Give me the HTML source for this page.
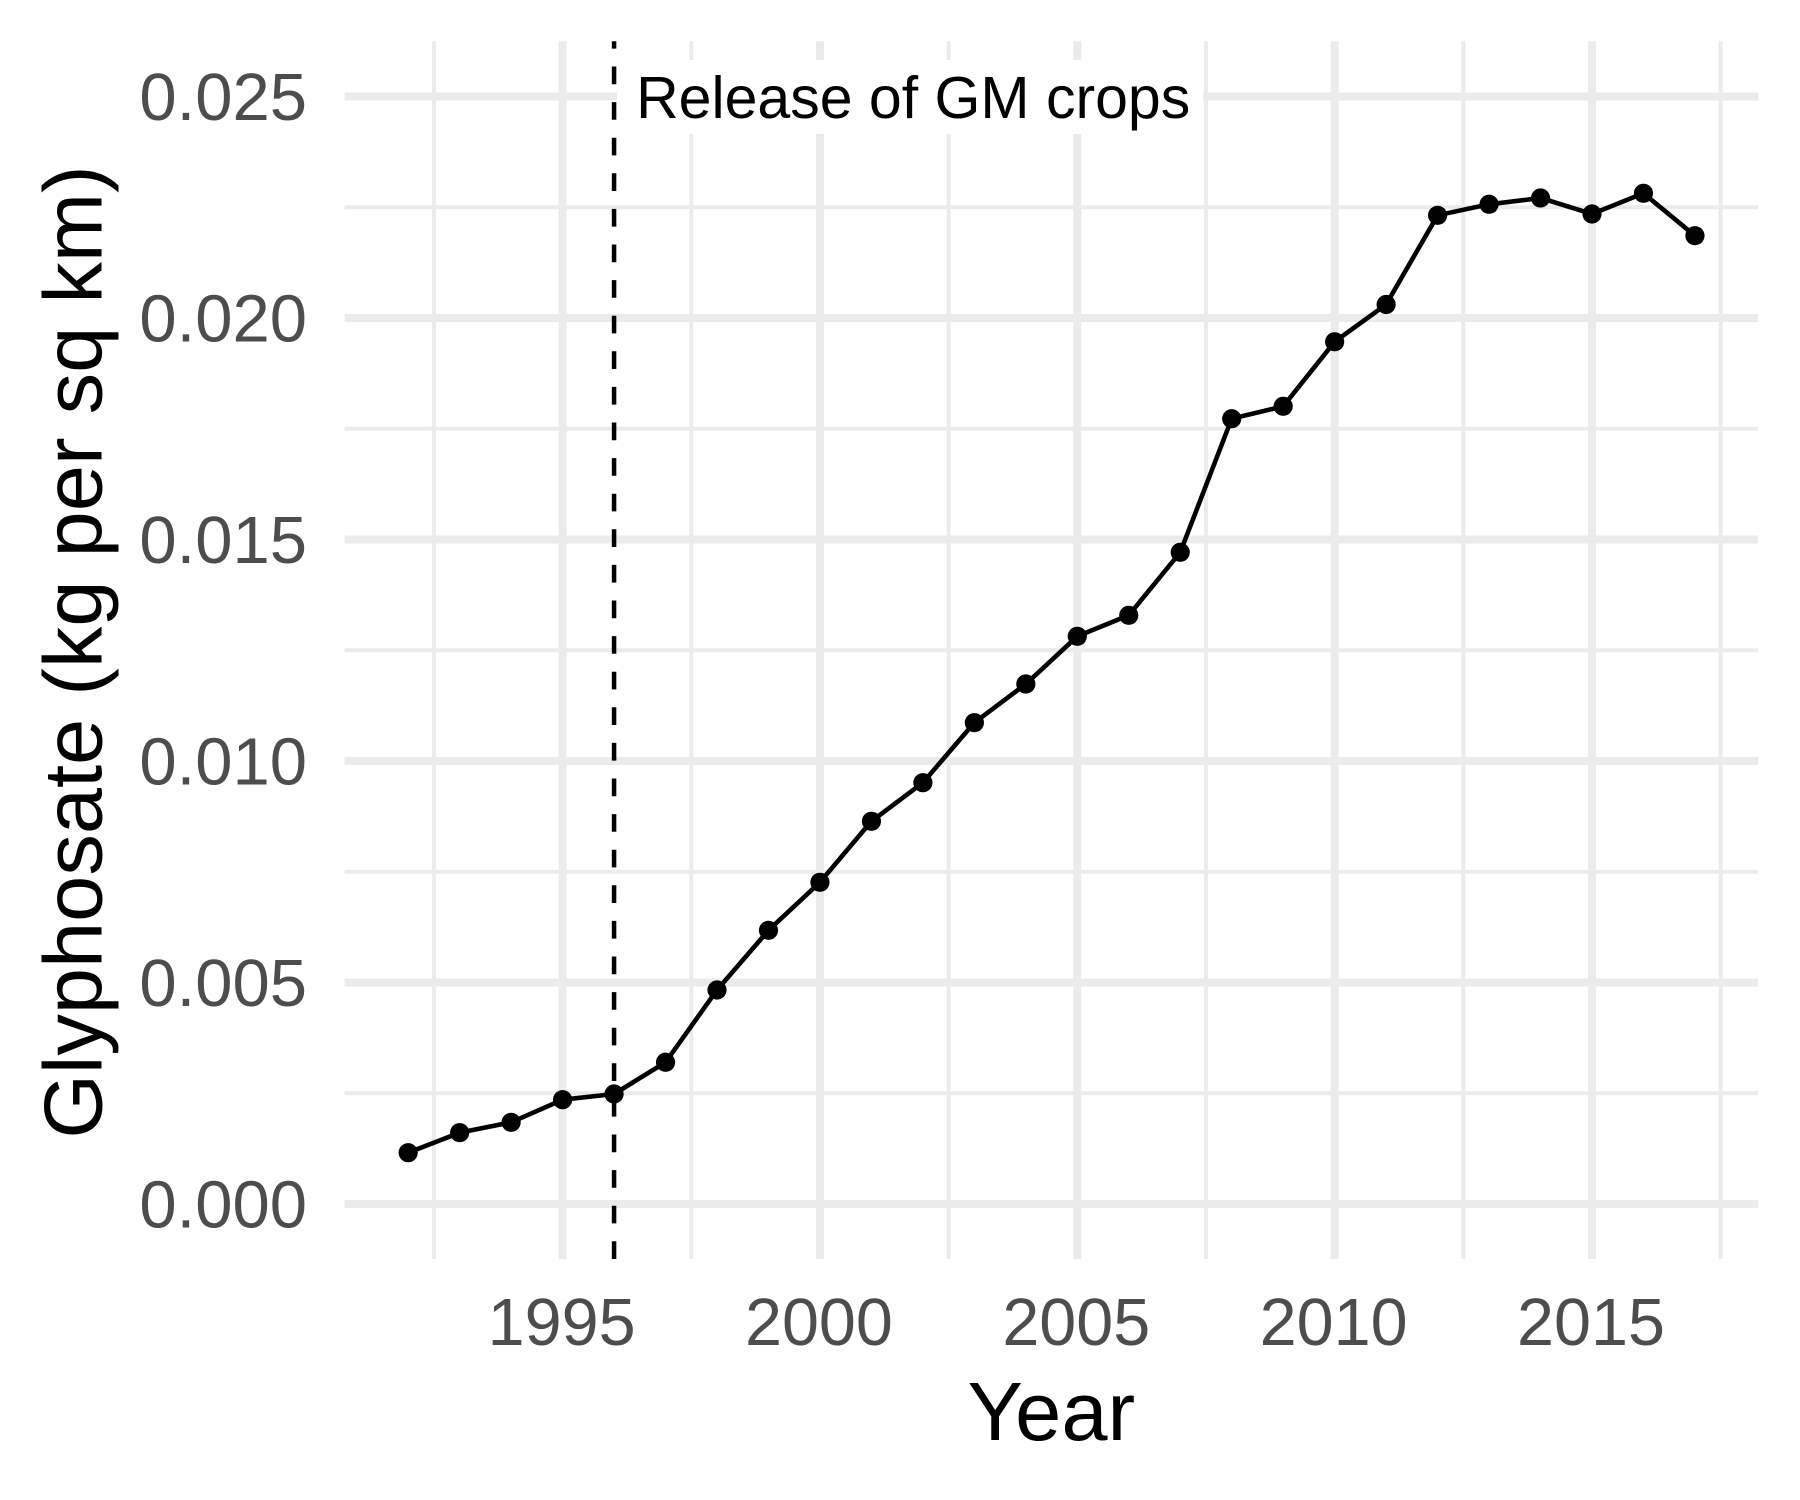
<!DOCTYPE html>
<html lang="en">
<head>
<meta charset="utf-8">
<title>Glyphosate use per sq km by year</title>
<style>
  html, body { margin: 0; padding: 0; background: #ffffff; }
  #chart { display: block; width: 1800px; height: 1500px; font-family: "Liberation Sans", Arial, sans-serif; }
</style>
</head>
<body>
<svg id="chart" xmlns="http://www.w3.org/2000/svg" width="1800" height="1500" viewBox="0 0 1800 1500">
  <rect x="0" y="0" width="1800" height="1500" fill="#ffffff"></rect>
  <g id="grid"></g>
  <rect id="labelBox" fill="#ffffff"></rect>
  <g id="marks"></g>
  <line id="refLine" stroke="#000000" stroke-width="4.5"></line>
  <g id="pointsLayer"></g>
  <text id="annotation" font-size="59" fill="#000000">Release of GM crops</text>
  <g id="xTicks"></g>
  <g id="yTicks"></g>
  <text x="1051.3" y="1440" font-size="83" text-anchor="middle" fill="#000000">Year</text>
  <text transform="translate(101.5,652) rotate(-90)" font-size="83" text-anchor="middle" fill="#000000">Glyphosate (kg per sq km)</text>
</svg>
<script>
const years = [1992,1993,1994,1995,1996,1997,1998,1999,2000,2001,2002,2003,2004,2005,2006,2007,2008,2009,2010,2011,2012,2013,2014,2015,2016,2017];
const glyphosate = [0.001158,0.00161,0.001844,0.002354,0.002483,0.003199,0.004831,0.006178,0.007262,0.008639,0.00951,0.010865,0.011738,0.012815,0.013289,0.014711,0.017727,0.018007,0.019463,0.020305,0.022318,0.022567,0.022709,0.022348,0.022815,0.021858];
const xMajorTicks = [1995,2000,2005,2010,2015];
const xMinorTicks = [1992.5,1997.5,2002.5,2007.5,2012.5,2017.5];
const yMajorTicks = [0,0.005,0.01,0.015,0.02,0.025];
const yMinorTicks = [0.0025,0.0075,0.0125,0.0175,0.0225];
const yTickLabels = ["0.000","0.005","0.010","0.015","0.020","0.025"];
const releaseYear = 1996;
const annotationYear = 1996;

const SVG_NS = "http://www.w3.org/2000/svg";
const panel = { left: 344.6, right: 1758, top: 41.3, bottom: 1259 };
function xScale(v) { return 562.6 + (v - 1995) * 51.47; }
function yScale(v) { return 1204 - v * 44300; }

function make(tag, attrs, parent) {
  const el = document.createElementNS(SVG_NS, tag);
  for (const k in attrs) el.setAttribute(k, attrs[k]);
  parent.appendChild(el);
  return el;
}

const grid = document.getElementById("grid");
yMinorTicks.forEach(function (t) {
  const el = make("line", { x1: panel.left, x2: panel.right, y1: yScale(t), y2: yScale(t), stroke: "#ebebeb", "stroke-width": 4 }, grid);
  
  
});
xMinorTicks.forEach(function (t) {
  const el = make("line", { x1: xScale(t), x2: xScale(t), y1: panel.top, y2: panel.bottom, stroke: "#ebebeb", "stroke-width": 4 }, grid);
  
  
});
yMajorTicks.forEach(function (t) {
  const el = make("line", { x1: panel.left, x2: panel.right, y1: yScale(t), y2: yScale(t), stroke: "#ebebeb", "stroke-width": 8 }, grid);
  
  
});
xMajorTicks.forEach(function (t) {
  const el = make("line", { x1: xScale(t), x2: xScale(t), y1: panel.top, y2: panel.bottom, stroke: "#ebebeb", "stroke-width": 8 }, grid);
  
  
});

const box = document.getElementById("labelBox");
box.setAttribute("x", xScale(annotationYear) + 3);
box.setAttribute("y", 60);
box.setAttribute("width", 586);
box.setAttribute("height", 74);

const ann = document.getElementById("annotation");
ann.setAttribute("x", xScale(annotationYear) + 22);
ann.setAttribute("y", 118);

const ref = document.getElementById("refLine");
ref.setAttribute("x1", xScale(releaseYear));
ref.setAttribute("x2", xScale(releaseYear));
ref.setAttribute("y1", panel.bottom);
ref.setAttribute("y2", panel.top);
ref.setAttribute("stroke-dasharray", "17.7 17.9");

const marks = document.getElementById("marks");
const path = make("polyline", {
  points: years.map(function (y, i) { return xScale(y) + "," + yScale(glyphosate[i]); }).join(" "),
  fill: "none", stroke: "#000000", "stroke-width": 4.6, "stroke-linejoin": "round"
}, marks);



const pointsLayer = document.getElementById("pointsLayer");
years.forEach(function (y, i) {
  const c = make("circle", { cx: xScale(y), cy: yScale(glyphosate[i]), r: 9.6, fill: "#000000" }, pointsLayer);
  
  
});

const xTicks = document.getElementById("xTicks");
xMajorTicks.forEach(function (t) {
  const el = make("text", { x: xScale(t) - 1, y: 1345, "font-size": 66.5, "text-anchor": "middle", fill: "#4d4d4d" }, xTicks);
  el.textContent = String(t);
  
  
});

const yTicks = document.getElementById("yTicks");
yMajorTicks.forEach(function (t, i) {
  const el = make("text", { x: 307, y: yScale(t) + 23.5, "font-size": 67, "text-anchor": "end", fill: "#4d4d4d" }, yTicks);
  el.textContent = yTickLabels[i];
  
  
});
</script>
</body>
</html>
